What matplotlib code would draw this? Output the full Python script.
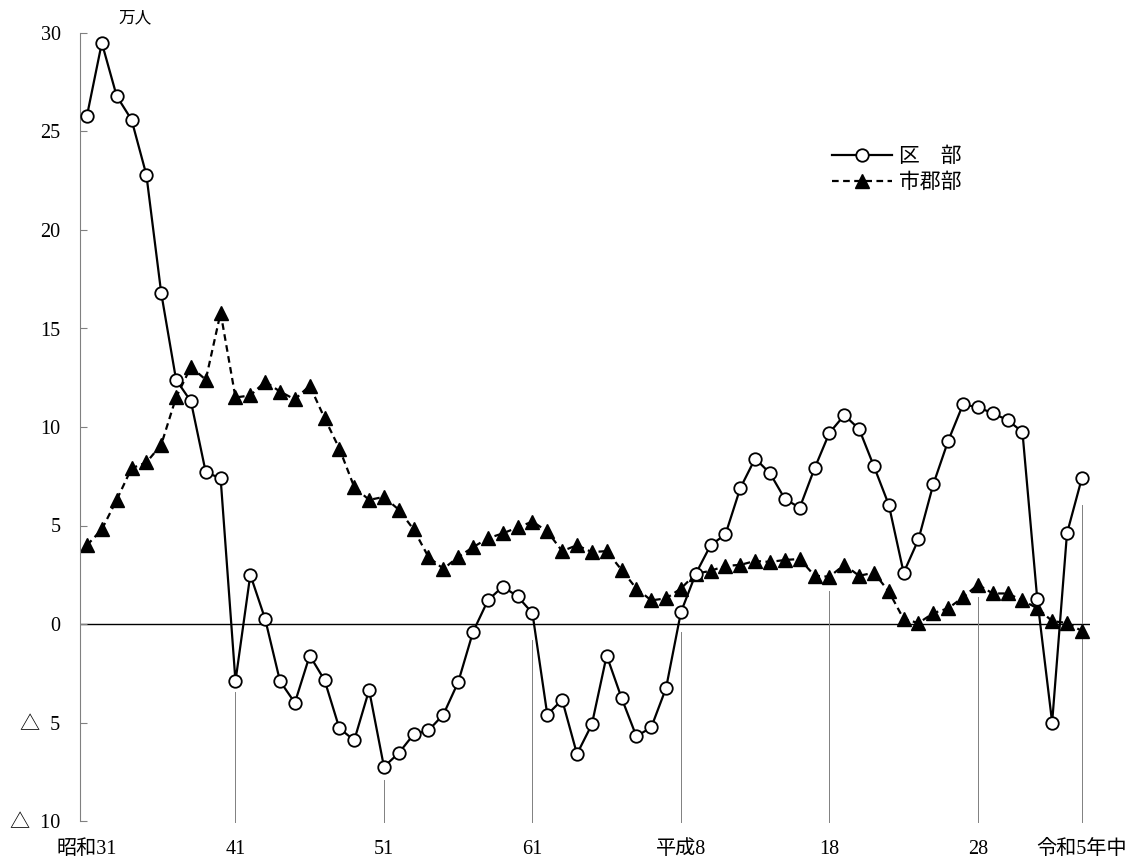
import matplotlib.pyplot as plt
import numpy as np

plt.rcParams['font.family'] = ['Liberation Serif', 'Noto Sans CJK JP']

years = np.arange(1956, 2024)

# 区部 (万人)
ku = [25.8, 29.5, 26.8, 25.6, 22.8, 16.8, 12.4, 11.3, 7.7, 7.4,
      -2.9, 2.5, 0.25, -2.9, -4.0, -1.6, -2.85, -5.3, -5.9, -3.35,
      -7.25, -6.55, -5.6, -5.4, -4.6, -2.95, -0.4, 1.2, 1.9, 1.4,
      0.55, -4.6, -3.85, -6.6, -5.1, -1.6, -3.75, -5.7, -5.25, -3.25,
      0.6, 2.55, 4.0, 4.55, 6.9, 8.4, 7.65, 6.35, 5.9, 7.9,
      9.7, 10.6, 9.9, 8.0, 6.05, 2.6, 4.3, 7.1, 9.3, 11.15,
      11.0, 10.7, 10.35, 9.75, 1.25, -5.0, 4.6, 7.4]

# 市郡部 (万人)
shigun = [4.0, 4.8, 6.3, 7.9, 8.2, 9.1, 11.5, 13.05, 12.4, 15.8,
          11.5, 11.6, 12.3, 11.8, 11.4, 12.1, 10.45, 8.9, 6.95, 6.3,
          6.45, 5.8, 4.8, 3.4, 2.8, 3.4, 3.9, 4.35, 4.6, 4.9,
          5.2, 4.7, 3.7, 4.0, 3.65, 3.7, 2.75, 1.8, 1.2, 1.3,
          1.8, 2.55, 2.7, 2.95, 3.0, 3.2, 3.15, 3.25, 3.3, 2.45,
          2.4, 3.0, 2.45, 2.6, 1.65, 0.25, 0.05, 0.55, 0.8, 1.35,
          2.0, 1.55, 1.55, 1.2, 0.8, 0.15, 0.05, -0.35]

tick_years = [1956, 1966, 1976, 1986, 1996, 2006, 2016, 2023]
tick_labels = ['昭和31', '41', '51', '61', '平成8', '18', '28', '令和5年中']
leader_tops = [None, -3.45, -7.9, -0.8, -0.4, 1.7, 1.35, 6.05]

ytick_vals = [30, 25, 20, 15, 10, 5, 0, -5, -10]
ytick_labels = ['30', '25', '20', '15', '10', '5', '0', '△  5', '△  10']

fig = plt.figure(figsize=(11.43, 8.61), dpi=100)
ax = fig.add_axes([80 / 1143, 40 / 861, 1010 / 1143, 788 / 861])

ax.axhline(0, color='black', lw=1.0, zorder=1)

for yr, top in zip(tick_years, leader_tops):
    if top is not None:
        ax.plot([yr, yr], [top, -10.05], color='gray', lw=0.7, clip_on=False, zorder=1)

ax.plot(years, ku, '-', color='black', lw=1.6, marker='o', markersize=9,
        markerfacecolor='white', markeredgecolor='black', markeredgewidth=1.3,
        label='区\u3000部', zorder=3)
ax.plot(years, shigun, color='black', lw=1.6, dashes=(3, 2), marker='^', markersize=9.5,
        markerfacecolor='black', markeredgecolor='black',
        label='市郡部', zorder=2)

ax.set_xlim(1955.53, 2023.55)
ax.set_ylim(-10, 30)

for s in ['top', 'right', 'bottom']:
    ax.spines[s].set_visible(False)
ax.spines['left'].set_color('gray')

ax.set_yticks(ytick_vals)
ax.set_yticklabels(ytick_labels)
ax.tick_params(axis='y', direction='in', length=5, color='gray', pad=14, labelsize=14.5)
ax.set_xticks(tick_years)
ax.set_xticklabels(tick_labels)
ax.tick_params(axis='x', length=0, pad=14, labelsize=14.5)

fig.text(118 / 1143, 1 - 18 / 861, '万人', fontsize=12, ha='left', va='center')

ax.legend(loc='upper left', bbox_to_anchor=(813 / 1143, 1 - 129 / 861),
          bbox_transform=fig.transFigure, frameon=False, fontsize=15,
          handlelength=2.9, handletextpad=0.33, labelspacing=0.3, numpoints=1)

plt.savefig('out.png', dpi=100)
plt.close()
